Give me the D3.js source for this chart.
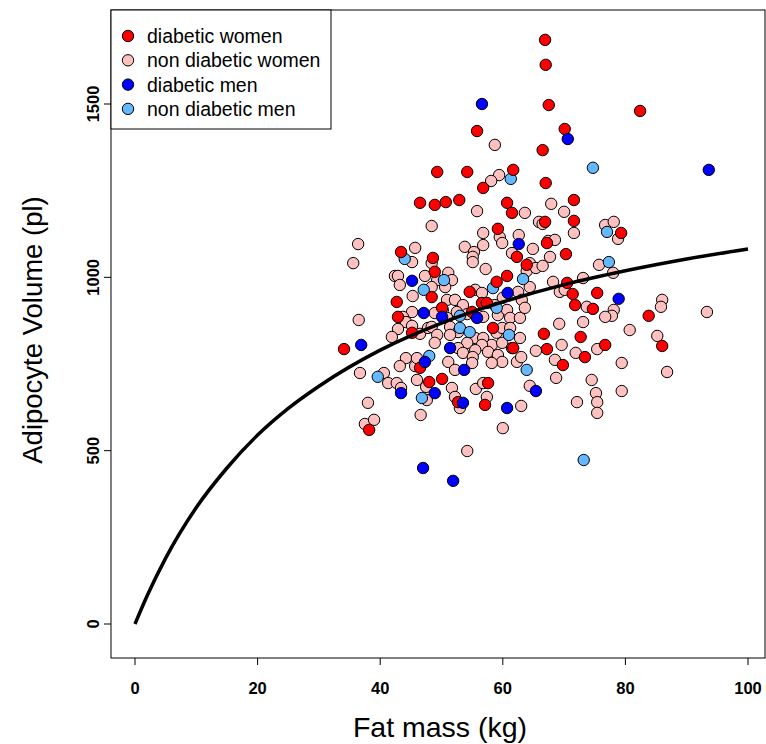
<!DOCTYPE html>
<html><head><meta charset="utf-8">
<script src="https://cdn.jsdelivr.net/npm/d3@7"></script>
<style>body{margin:0;background:#fff}svg{display:block}text{font-family:"Liberation Sans",Arial,sans-serif}</style>
</head><body><svg id="c" width="766" height="744"></svg>
<script>
// [fat mass kg, adipocyte volume pl]
const diabeticWomen = [[66.9,1685],[67.0,1613],[67.5,1497],[55.8,1422],[70.1,1428],[66.5,1367],[54.2,1304],[49.3,1304],[61.7,1310],[56.8,1258],[67.0,1272],[82.4,1480],[46.5,1215],[48.9,1209],[50.7,1217],[52.9,1223],[60.7,1215],[71.6,1223],
[43.4,1073],[48.6,1056],[48.9,1016],[61.5,1186],[59.2,1140],[62.3,1059],[60.7,1004],[63.9,1036],[59.0,987],
[66.9,1160],[71.6,1163],[79.3,1128],[67.2,1099],[70.3,1067],[70.5,984],
[34.1,793],[42.7,929],[42.9,886],[45.2,840],[46.5,739],
[48.4,943],[54.6,958],[56.6,926],[57.4,926],[50.1,912],[55.0,900],[58.4,854],[61.7,796],
[71.4,952],[75.4,955],[71.8,920],[74.7,909],[66.7,837],[72.7,828],[67.2,793],[76.7,805],[73.4,770],[69.8,747],
[38.2,560],[48.0,698],[50.1,707],[52.7,640],[57.1,632],[57.6,695],[83.8,889],[86.0,802]];
const nonDiabeticWomen = [[58.7,1382],[59.4,1295],[58.1,1278],[67.9,1212],
[36.4,1096],[35.6,1041],[48.4,1148],[45.7,1085],[45.2,1044],[42.4,1004],[42.9,1004],[47.3,1004],[48.4,1041],
[55.8,1191],[63.6,1186],[56.8,1128],[59.5,1116],[59.9,1099],[62.6,1122],[53.8,1088],[55.3,1073],[56.8,1093],[55.1,1059],[55.1,1044],[61.5,1070],[57.2,1024],[63.9,1018],[51.1,1013],[51.7,992],[49.3,992],
[70.0,1189],[65.9,1160],[66.5,1154],[71.6,1128],[76.7,1151],[78.1,1160],[78.8,1111],[67.4,1105],[68.5,1108],[64.9,1082],[67.7,1059],[64.4,1041],[65.4,1027],[66.5,1033],[75.7,1036],[78.0,1013],[73.1,998],[68.2,987],
[36.5,877],[45.3,946],[43.2,978],[45.2,900],[43.7,886],[44.2,871],[42.9,851],[41.9,828],[45.2,860],[46.5,837],[47.8,854],[44.2,767],[43.2,744],[45.7,744],[46.0,767],
[48.4,972],[50.6,972],[50.9,935],[52.2,935],[55.5,964],[56.6,955],[60.0,941],[62.5,958],[63.1,935],[58.7,920],[53.5,920],[50.2,906],[48.9,897],[50.9,883],[52.5,900],[54.2,894],[56.8,886],[59.2,891],[60.7,906],[61.2,883],[62.8,883],[63.6,912],[48.4,857],[51.4,857],[52.7,842],[49.3,834],[51.4,834],[55.5,825],[56.8,825],[59.0,840],[59.9,854],[61.2,854],[62.8,825],[48.9,811],[54.2,811],[58.2,805],[59.9,811],[56.6,805],[55.5,790],[52.7,796],[53.5,782],[55.1,770],[55.0,753],[57.6,785],[59.2,776],[59.9,756],[58.2,753],[61.5,796],[62.3,756],[63.0,770],[51.1,756],
[64.4,972],[69.3,958],[70.1,964],[73.7,915],[78.1,906],[77.8,889],[76.7,886],[69.2,866],[73.1,871],[80.7,848],[65.4,788],[69.6,805],[75.4,793],[71.9,782],[68.5,762],[79.4,753],
[36.7,724],[40.6,724],[41.3,695],[42.7,695],[43.4,681],[38.0,638],[37.5,577],[39.0,589],[46.6,603],[46.0,704],[47.5,684],[47.6,646],[51.7,681],[52.2,655],[53.0,623],[54.2,499],[55.6,678],[52.2,733],
[64.4,687],[68.7,710],[74.5,704],[75.2,666],[75.4,640],[75.4,609],[79.4,672],[72.1,640],[63.0,629],[60.0,565],[57.4,655],[56.8,695],
[86.0,935],[85.8,915],[93.3,900],[85.2,831],[86.8,727]];
const diabeticMen = [[56.6,1500],[70.6,1399],[93.6,1310],[45.2,990],[62.6,1096],[36.9,805],[47.1,897],[47.3,756],[60.8,955],[50.1,886],[55.8,883],[51.4,796],[53.7,733],[78.9,938],[43.4,666],[48.9,666],[53.5,638],[47.0,450],[51.9,413],[65.4,672],[60.7,623]];
const nonDiabeticMen = [[61.3,1284],[74.7,1316],[44.0,1053],[63.3,995],[50.4,992],[77.0,1131],[77.3,1044],[47.1,964],[48.0,773],[58.4,969],[53.0,889],[59.0,912],[53.0,854],[54.6,842],[61.0,834],[63.9,733],[39.6,713],[46.8,652],[73.2,473]];
// fitted curve
const curveX = [0,2,5,10,15,20,25,30,40,50,60,70,80,90,100];
const curveY = [0,82,190,336,450,545,622,686,790,868,929,979,1019,1053,1082];
const xTicks = [0,20,40,60,80,100];
const yTicks = [0,500,1000,1500];
const legendLabels = ["diabetic women","non diabetic women","diabetic men","non diabetic men"];
const colors = ["#ff0000","#ffc0c0","#0000ff","#63b8ff"];

const svg = d3.select("#c");
const L=111, R=765, T=10, B=658;
const x = d3.scaleLinear().domain([0,100]).range([135,748]);
const y = d3.scaleLinear().domain([0,1500]).range([624,104]);
const PR = 5.7;

// box
svg.append("rect").attr("x",L).attr("y",T).attr("width",R-L).attr("height",B-T)
  .attr("fill","none").attr("stroke","#000").attr("stroke-width",1);

// x axis
const xa = svg.append("g");
xTicks.forEach(t=>{
  xa.append("line").attr("x1",x(t)).attr("x2",x(t)).attr("y1",B).attr("y2",B+7).attr("stroke","#000");
  xa.append("text").attr("x",x(t)).attr("y",694).attr("text-anchor","middle")
    .attr("font-size",16.5).attr("font-weight","bold").text(t);
});
// y axis
const ya = svg.append("g");
yTicks.forEach(t=>{
  ya.append("line").attr("x1",L-7).attr("x2",L).attr("y1",y(t)).attr("y2",y(t)).attr("stroke","#000");
  ya.append("text").attr("transform",`translate(99,${y(t)}) rotate(-90)`).attr("text-anchor","middle")
    .attr("font-size",16.5).attr("font-weight","bold").text(t);
});
svg.append("text").attr("x",440).attr("y",737).attr("text-anchor","middle").attr("font-size",28.5).text("Fat mass (kg)");
svg.append("text").attr("transform",`translate(42,330) rotate(-90)`).attr("text-anchor","middle").attr("font-size",27.5).text("Adipocyte Volume (pl)");

// points
const series = [nonDiabeticWomen, nonDiabeticMen, diabeticWomen, diabeticMen];
const sColor = [colors[1], colors[3], colors[0], colors[2]];
series.forEach((s,i)=>{
  svg.append("g").selectAll("circle").data(s).join("circle")
    .attr("cx",d=>x(d[0])).attr("cy",d=>y(d[1])).attr("r",PR)
    .attr("fill",sColor[i]).attr("stroke","#000").attr("stroke-width",1);
});

// curve
const cdata = curveX.map((v,i)=>[v,curveY[i]]);
svg.append("path").datum(cdata)
  .attr("d",d3.line().x(d=>x(d[0])).y(d=>y(d[1])).curve(d3.curveMonotoneX))
  .attr("fill","none").attr("stroke","#000").attr("stroke-width",3.5);

// legend
const lg = svg.append("g");
lg.append("rect").attr("x",L).attr("y",T).attr("width",220).attr("height",119)
  .attr("fill","#fff").attr("stroke","#000");
legendLabels.forEach((lab,i)=>{
  const cy = 36 + i*24.3;
  lg.append("circle").attr("cx",128).attr("cy",cy).attr("r",PR).attr("fill",colors[i]).attr("stroke","#000");
  lg.append("text").attr("x",147).attr("y",cy+7).attr("font-size",19.5).text(lab);
});
</script></body></html>
